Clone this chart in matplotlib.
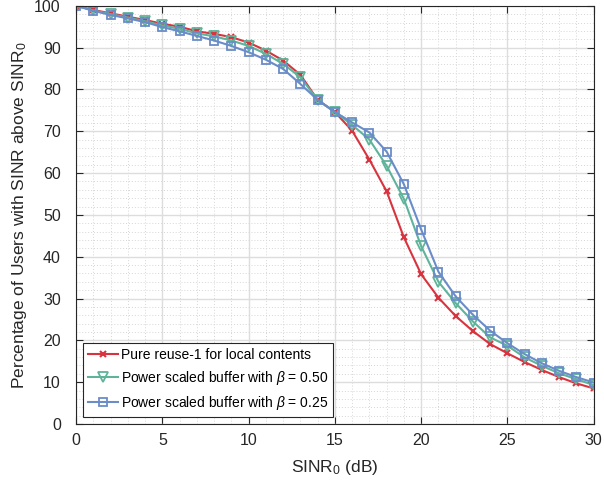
import matplotlib
matplotlib.use("Agg")
import matplotlib.pyplot as plt
from matplotlib.ticker import MultipleLocator

plt.rcParams["font.family"] = ["Liberation Sans", "DejaVu Sans"]
plt.rcParams["mathtext.fontset"] = "custom"
plt.rcParams["mathtext.rm"] = "Liberation Sans"
plt.rcParams["mathtext.it"] = "Liberation Sans:italic"

sinr_db = list(range(0, 31))

reuse1 = [100, 99.0, 98.2, 97.4, 96.6, 95.7, 95.0, 93.9, 93.3, 92.5, 91.2,
          89.3, 86.9, 83.5, 77.5, 74.6, 70.1, 63.2, 55.6, 44.6, 35.8,
          30.2, 25.8, 22.2, 19.1, 16.9, 14.8, 12.9, 11.2, 9.7, 8.5]
beta_050 = [100, 98.9, 98.0, 97.2, 96.3, 95.3, 94.5, 93.4, 92.7, 91.7, 90.4,
            88.5, 86.1, 82.9, 77.5, 74.6, 71.5, 68.0, 61.7, 53.8, 42.5,
            34.0, 28.9, 24.5, 20.7, 18.7, 15.9, 13.9, 12.1, 10.7, 9.3]
beta_025 = [100, 98.8, 97.8, 97.0, 96.1, 94.9, 93.9, 92.8, 91.7, 90.4, 88.9,
            87.1, 84.9, 81.3, 77.5, 74.6, 72.1, 69.7, 65.1, 57.3, 46.5,
            36.4, 30.5, 26.1, 22.3, 19.3, 16.7, 14.5, 12.7, 11.2, 9.9]

labels = [
    "Pure reuse-1 for local contents",
    r"Power scaled buffer with $\beta$ = 0.50",
    r"Power scaled buffer with $\beta$ = 0.25",
]

fig = plt.figure(figsize=(6.04, 4.84), dpi=100)
ax = fig.add_axes([0.126, 0.124, 0.857, 0.864])

ax.plot(sinr_db, reuse1, color="#d8343f", lw=1.5, marker="x", ms=5,
        mew=1.5, label=labels[0])
ax.plot(sinr_db, beta_050, color="#5fb39a", lw=1.5, marker="v", ms=7,
        mew=1.3, fillstyle="none", label=labels[1])
ax.plot(sinr_db, beta_025, color="#6a8cc8", lw=1.5, marker="s", ms=6,
        mew=1.3, fillstyle="none", label=labels[2])

ax.set_xlim(0, 30)
ax.set_ylim(0, 100)
ax.xaxis.set_major_locator(MultipleLocator(5))
ax.yaxis.set_major_locator(MultipleLocator(10))
ax.xaxis.set_minor_locator(MultipleLocator(1))
ax.yaxis.set_minor_locator(MultipleLocator(2))

ax.grid(which="major", color="#dddddd", lw=1.0)
ax.grid(which="minor", color="#d6d6d6", lw=0.7, ls=(0, (1, 2)))
ax.set_axisbelow(True)

ax.tick_params(which="both", direction="in", top=True, right=True,
               labelsize=11.5, colors="#262626")
ax.tick_params(which="minor", length=0)
ax.tick_params(which="major", length=5)
ax.tick_params(axis="x", which="major", pad=6.5)
ax.tick_params(axis="y", which="major", pad=11)
for sp in ax.spines.values():
    sp.set_color("#262626")
    sp.set_linewidth(0.8)

ax.set_xlabel(r"SINR$_0$ (dB)", fontsize=12.5, color="#262626", labelpad=7)
ax.set_ylabel(r"Percentage of Users with SINR above SINR$_0$", fontsize=12.5,
              color="#262626")

leg = ax.legend(loc="lower left", fontsize=10, fancybox=False,
                edgecolor="#262626", framealpha=1, borderpad=0.35,
                labelspacing=0.5, handlelength=2.2, handletextpad=0.2,
                borderaxespad=0.5)
leg.get_frame().set_linewidth(0.8)

fig.savefig("out.png", dpi=100)
